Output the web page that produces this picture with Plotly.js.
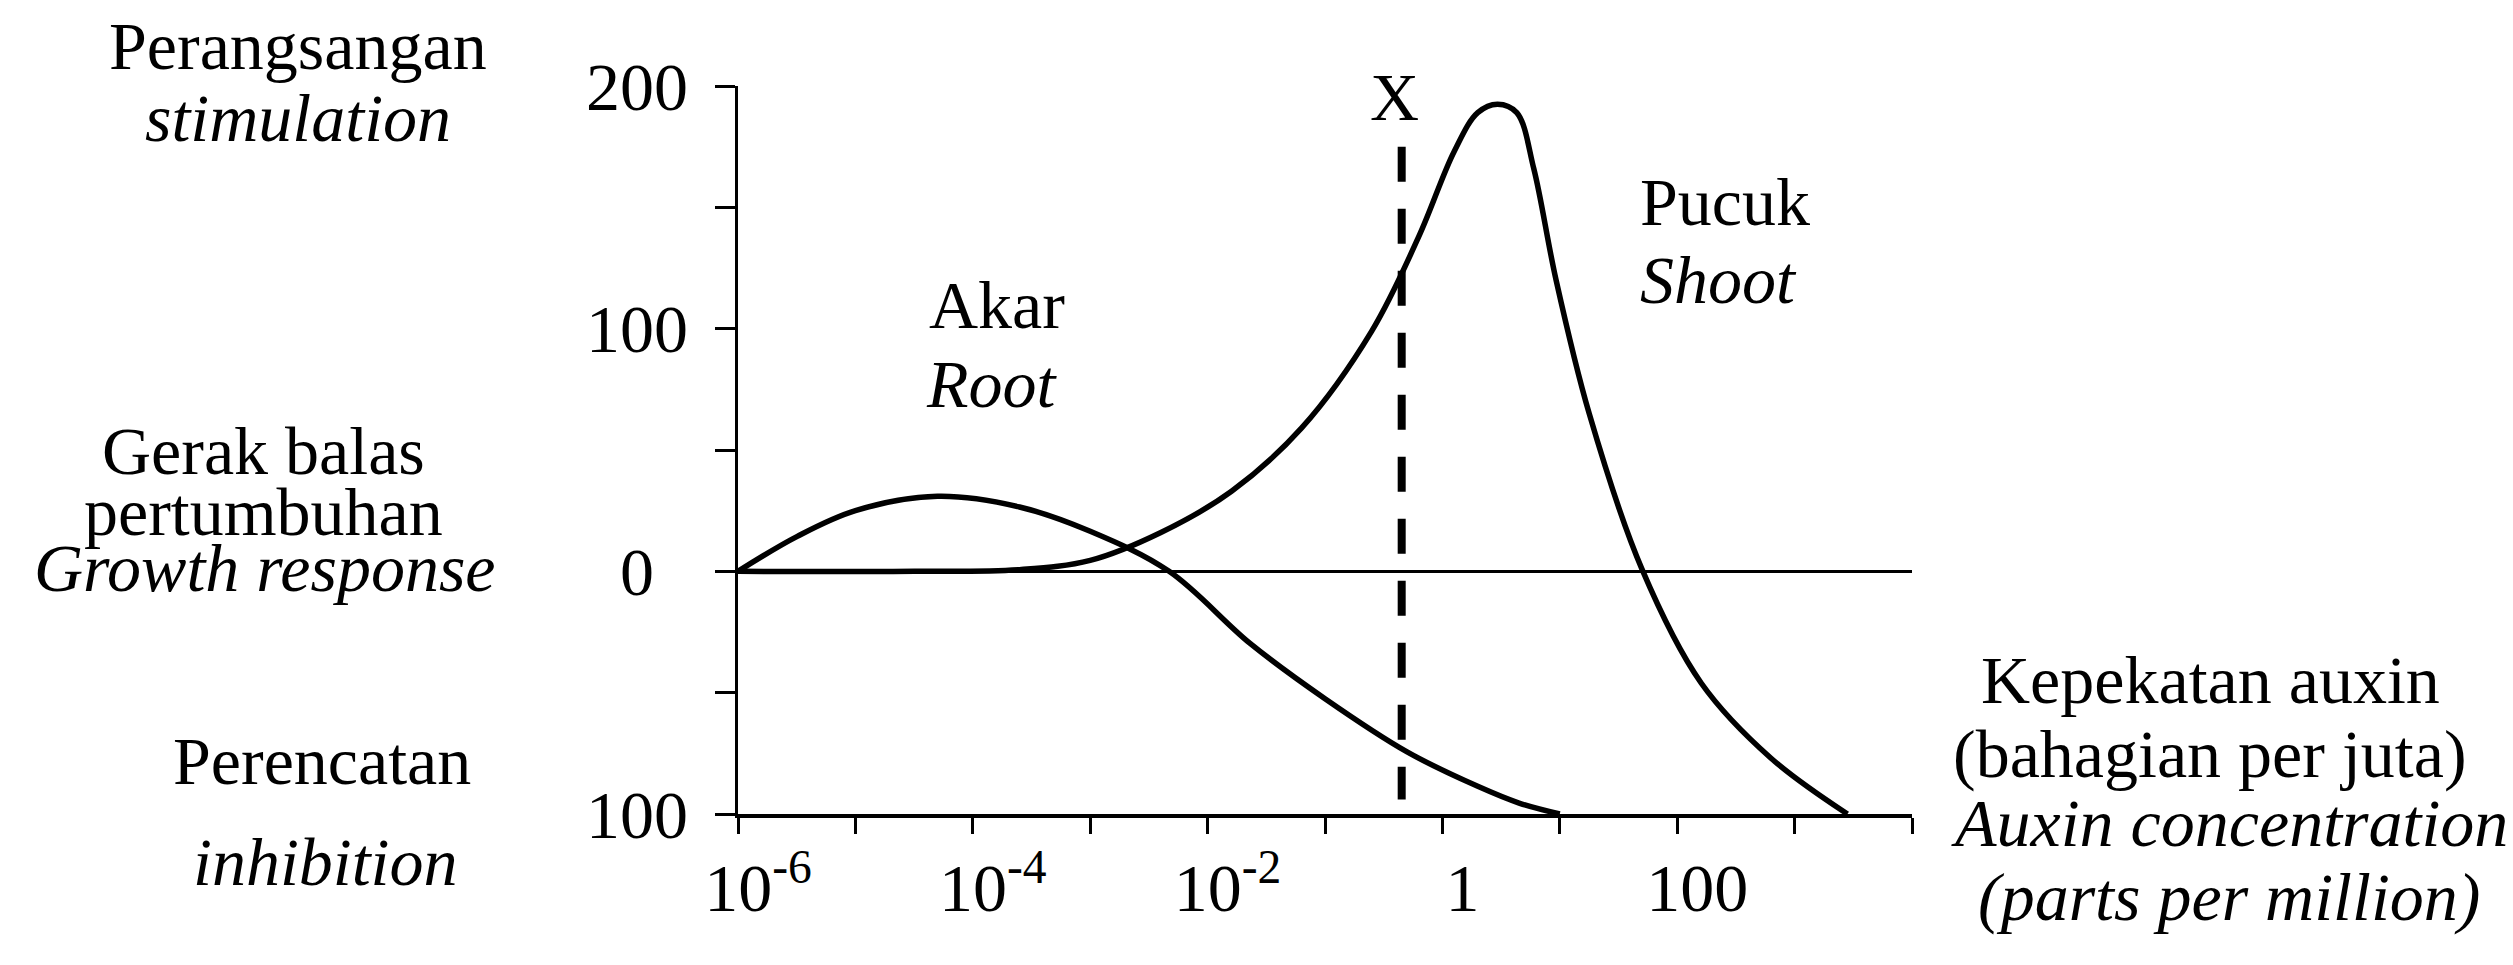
<!DOCTYPE html>
<html>
<head>
<meta charset="utf-8">
<script src="https://cdn.plot.ly/plotly-3.0.1.min.js"></script>
<style>html,body{margin:0;padding:0;background:#fff;}#chart{width:2513px;height:965px;}</style>
</head>
<body>
<div id="chart"></div>
<script>
// ---- data (auxin concentration in ppm, growth response) ----
const rootConc  = [1e-6, 3.2e-6, 1e-5, 5e-5, 2.5e-4, 1e-3, 4.7e-3, 0.023, 0.1, 0.5, 2, 4.5, 10];
const rootResp  = [0, 14.4, 25, 30.9, 26.5, 16.5, 0, -29.7, -52.5, -74.4, -88.6, -95.5, -100];
const shootConc = [1e-6, 3.2e-5, 2.5e-4, 1e-3, 4e-3, 0.016, 0.063, 0.25, 0.63, 1.26, 2, 2.95, 4.3, 6.0, 9.3, 17.8, 50, 160, 630, 2820];
const shootResp = [0, 0, 0.7, 4.5, 16, 33, 59, 99, 138, 173, 189, 192.5, 189, 166, 120, 65, 1, -46, -77, -100];
const xMarkConc = [0.45, 0.45];
const xMarkResp = [175, -94];

const xTickVals = [1e-6, 1e-5, 1e-4, 1e-3, 1e-2, 1e-1, 1, 10, 100, 1000, 10000];
const xTickText = ["10<sup>-6</sup>", "", "10<sup>-4</sup>", "", "10<sup>-2</sup>", "", "1", "", "100", "", ""];
const yTickVals = [-100, -50, 0, 50, 100, 150, 200];
const yTickText = ["100", "", "0\u2007", "", "100", "", "200"];

// ---- layout helpers (pixel -> paper) ----
const L = 738, R = 1912, T = 86, B = 814;
const px = x => (x - L) / (R - L);
const py = y => (B - y) / (B - T);
const FONT = "Liberation Serif, Times New Roman, serif";
const FS = 68;

function ann(text, x, y, xanchor, italic) {
  return {
    text: italic ? "<i>" + text + "</i>" : text,
    xref: "paper", yref: "paper", x: px(x), y: py(y),
    xanchor: xanchor, yanchor: "middle", showarrow: false,
    font: {family: FONT, size: FS, color: "#000"}
  };
}

const traces = [
  {x: rootConc, y: rootResp, mode: "lines", line: {color: "#000", width: 5.5, shape: "spline", smoothing: 1}, name: "Akar / Root", hoverinfo: "skip"},
  {x: shootConc, y: shootResp, mode: "lines", line: {color: "#000", width: 5.5, shape: "spline", smoothing: 1}, name: "Pucuk / Shoot", hoverinfo: "skip"},
  {x: xMarkConc, y: xMarkResp, mode: "lines", line: {color: "#000", width: 8, dash: "35px,27px"}, name: "X", hoverinfo: "skip"}
];

const layout = {
  width: 2513, height: 965,
  margin: {l: L, r: 2513 - R, t: T, b: 965 - B},
  paper_bgcolor: "#fff", plot_bgcolor: "#fff",
  showlegend: false,
  font: {family: FONT, size: FS, color: "#000"},
  xaxis: {
    type: "log", range: [-6, 4], showgrid: false, zeroline: false,
    showline: true, linewidth: 3.5, linecolor: "#000",
    ticks: "outside", ticklen: 16, tickwidth: 3, tickcolor: "#000",
    tickmode: "array", tickvals: xTickVals, ticktext: xTickText,
    tickfont: {family: FONT, size: FS, color: "#000"},
    ticklabelshift: 20, ticklabelstandoff: -4, fixedrange: true
  },
  yaxis: {
    range: [-100, 200], showgrid: false,
    zeroline: true, zerolinewidth: 2.5, zerolinecolor: "#000",
    showline: true, linewidth: 3.5, linecolor: "#000",
    ticks: "outside", ticklen: 20, tickwidth: 3, tickcolor: "#000",
    tickmode: "array", tickvals: yTickVals, ticktext: yTickText,
    tickfont: {family: FONT, size: FS, color: "#000"},
    ticklabelstandoff: 13, fixedrange: true
  },
  annotations: [
    ann("Perangsangan", 298, 46, "center", false),
    ann("stimulation", 298, 118, "center", true),
    ann("Gerak balas", 263, 451, "center", false),
    ann("pertumbuhan", 263, 512, "center", false),
    ann("Growth response", 265, 568, "center", true),
    ann("Perencatan", 322, 761, "center", false),
    ann("inhibition", 325, 862, "center", true),
    ann("Akar", 927, 305, "left", false),
    ann("Root", 924, 384, "left", true),
    ann("X", 1394, 97, "center", false),
    ann("Pucuk", 1638, 202, "left", false),
    ann("Shoot", 1638, 280, "left", true),
    ann("Kepekatan auxin", 2210, 680, "center", false),
    ann("(bahagian per juta)", 2210, 754, "center", false),
    ann("Auxin concentration", 2229, 823, "center", true),
    ann("(parts per million)", 2229, 897, "center", true)
  ]
};

Plotly.newPlot("chart", traces, layout, {staticPlot: true, displayModeBar: false});
</script>
</body>
</html>
